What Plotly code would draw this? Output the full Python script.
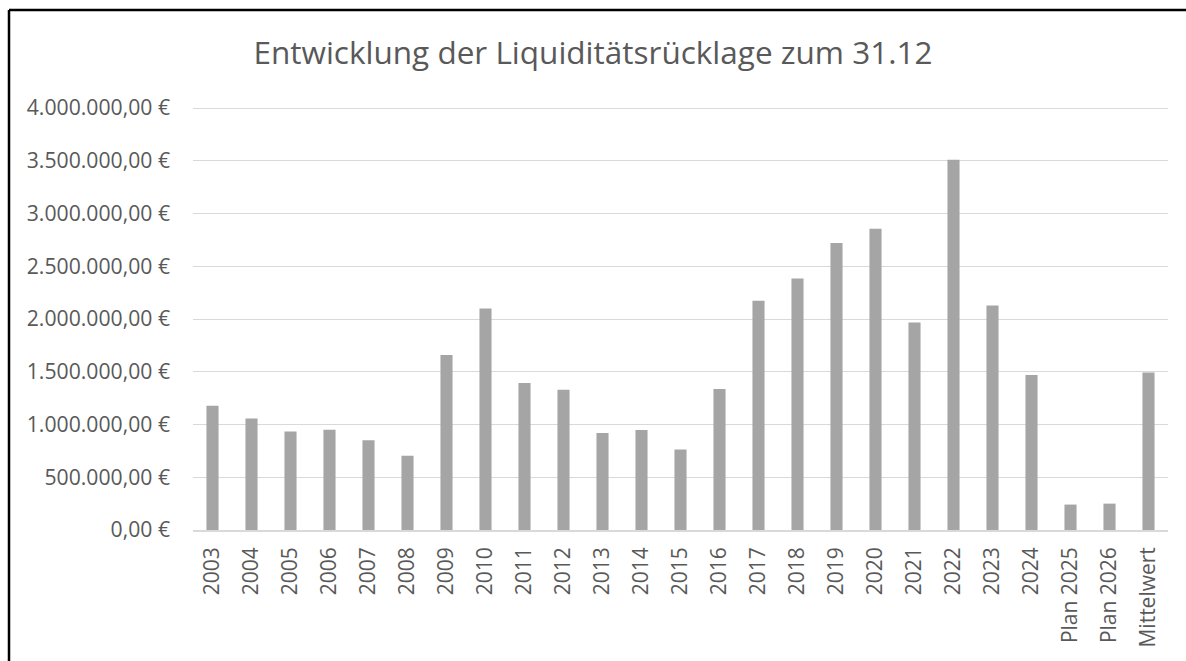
import plotly.graph_objects as go

categories = ["2003", "2004", "2005", "2006", "2007", "2008", "2009", "2010",
              "2011", "2012", "2013", "2014", "2015", "2016", "2017", "2018",
              "2019", "2020", "2021", "2022", "2023", "2024", "Plan 2025",
              "Plan 2026", "Mittelwert"]
values = [1178000, 1058000, 934000, 950000, 852000, 703000, 1660000, 2100000,
          1393000, 1330000, 919000, 947000, 763000, 1337000, 2173000, 2385000,
          2721000, 2857000, 1967000, 3509000, 2128000, 1470000, 241000,
          250000, 1492000]
tick_values = [0, 500000, 1000000, 1500000, 2000000, 2500000, 3000000,
               3500000, 4000000]
tick_labels = ["0,00 €", "500.000,00 €", "1.000.000,00 €", "1.500.000,00 €",
               "2.000.000,00 €", "2.500.000,00 €", "3.000.000,00 €",
               "3.500.000,00 €", "4.000.000,00 €"]
title_text = "Entwicklung der Liquiditätsrücklage zum 31.12"

W, H = 1186, 661
L, R, T, B = 193, 18, 107, 131
pw, ph = W - L - R, H - T - B

# frame of the chart area (left and top edges visible in the reference)
fx0 = (9 - L) / pw
fx1 = (W + 20 - L) / pw
fy_top = (H - B - 10) / ph
fy_bot = -(B + 20) / ph
frame = dict(color="black", width=2.5)

fig = go.Figure(go.Bar(
    x=categories, y=values,
    marker=dict(color="#A5A5A5", line=dict(width=0)),
    hoverinfo="x+y",
))

fig.update_layout(
    width=W, height=H,
    margin=dict(l=L, r=R, t=T, b=B),
    paper_bgcolor="white", plot_bgcolor="white",
    bargap=0.69,
    showlegend=False,
    font=dict(family="Open Sans, sans-serif", color="#595959"),
    title=dict(text=title_text, x=0.5, xanchor="center", xref="container",
               y=1 - 53 / H, yanchor="middle", yref="container",
               font=dict(size=31.5, color="#595959",
                         family="Open Sans, sans-serif")),
    xaxis=dict(type="category", tickangle=-90, showgrid=False,
               tickfont=dict(size=21, color="#595959"),
               showline=True, linecolor="#D9D9D9", linewidth=1.5,
               ticks="", ticklabelstandoff=7),
    yaxis=dict(range=[0, 4010000], tickvals=tick_values, ticktext=tick_labels,
               showgrid=True, gridcolor="#D9D9D9", gridwidth=1.3,
               zeroline=False, showline=False, ticks="",
               tickfont=dict(size=21.2, color="#595959"),
               ticklabelstandoff=22),
    shapes=[
        dict(type="line", xref="paper", yref="paper",
             x0=fx0, x1=fx0, y0=fy_bot, y1=fy_top, line=frame, layer="above"),
        dict(type="line", xref="paper", yref="paper",
             x0=fx0, x1=fx1, y0=fy_top, y1=fy_top, line=frame, layer="above"),
    ],
)

fig.write_html(
    "out.html",
    config={"displayModeBar": False},
    post_script="document.body.style.margin='0';"
                "document.body.style.overflow='hidden';",
)
